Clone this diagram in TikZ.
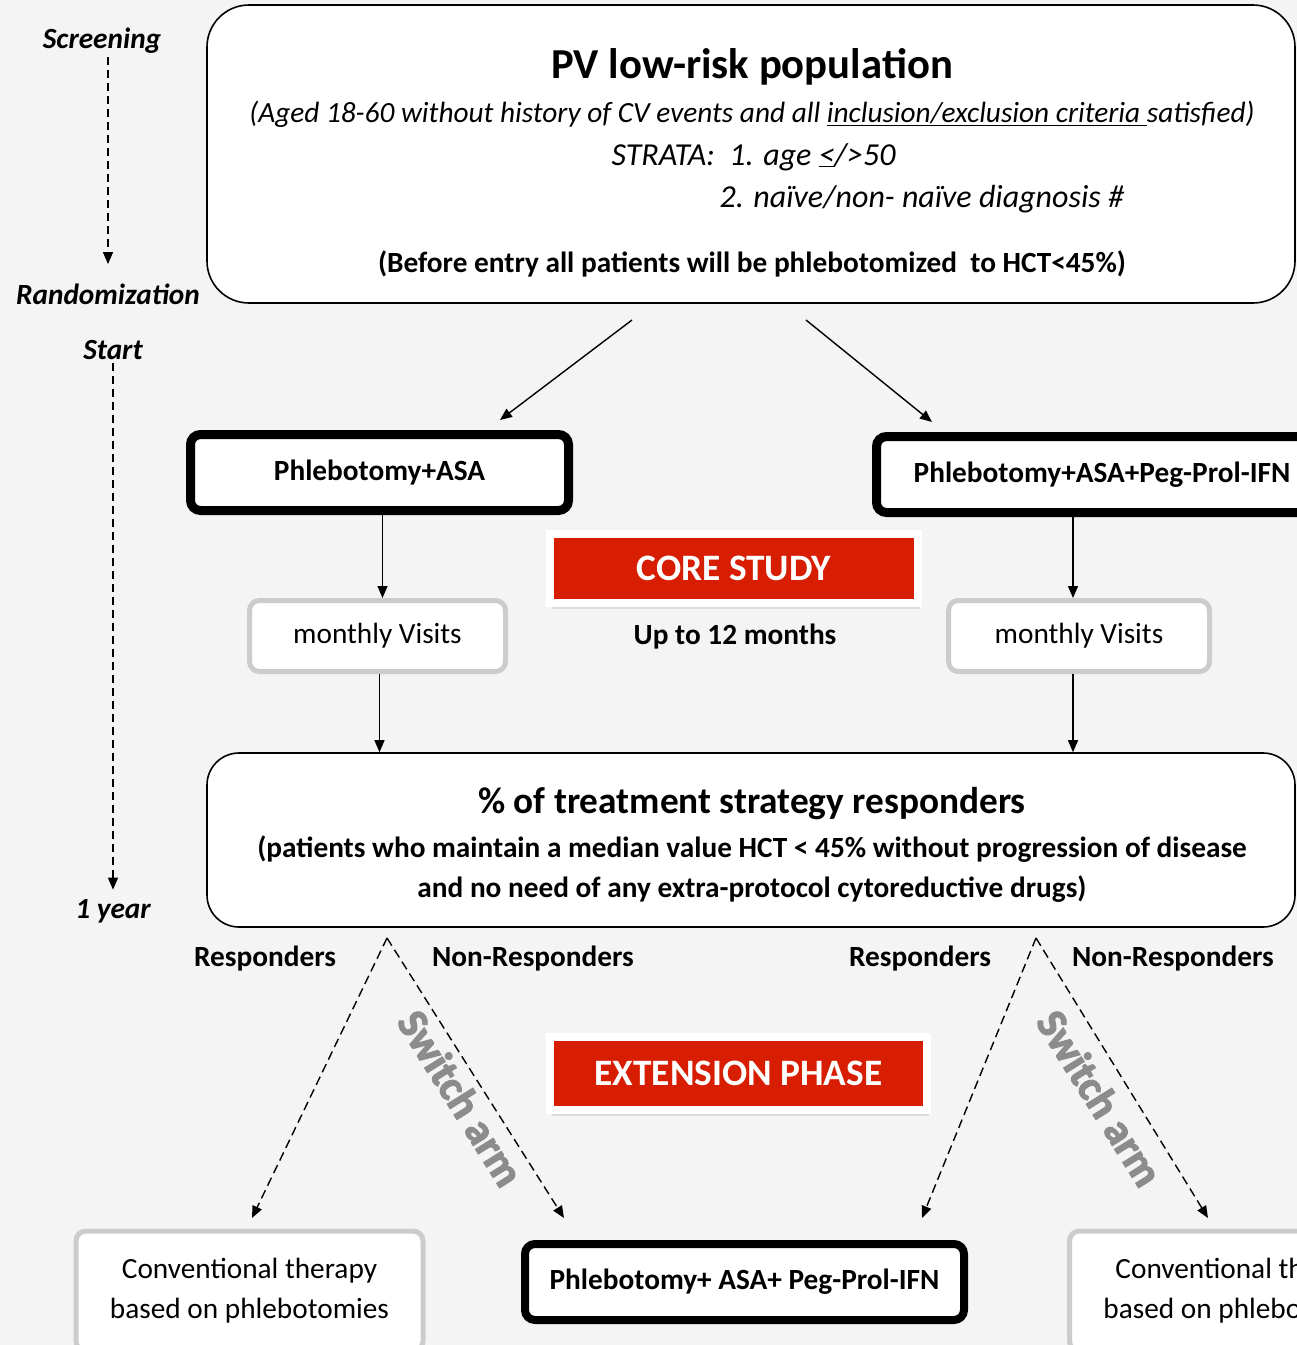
\documentclass[tikz,border=0pt]{standalone}
\usepackage{fontspec}
\setmainfont{Carlito}
\newfontfamily\switchfont[BoldFeatures={FakeBold=3}]{Carlito}
\usetikzlibrary{arrows.meta,shadows}

\definecolor{bgGray}{RGB}{244,244,244}
\definecolor{coreRed}{RGB}{216,30,2}
\definecolor{frameGray}{RGB}{204,204,204}
\definecolor{switchGray}{RGB}{140,140,140}
\newcommand{\fsz}[2]{\fontsize{#1}{#2}\selectfont}

\begin{document}
\begin{tikzpicture}[x=1pt,y=-1pt,
		>={Triangle[length=12pt,width=10pt]},
		bigbox/.style={draw=black,line width=1.6pt,fill=white,rounded corners=42pt,minimum width=1088pt,inner sep=0pt},
		armbox/.style={draw=black,line width=9pt,fill=white,rounded corners=10pt,minimum height=76pt,inner sep=0pt,font=\fsz{29.3}{34}\bfseries},
		visitbox/.style={draw=frameGray,line width=5pt,fill=white,rounded corners=10pt,inner sep=0pt,align=center,font=\fsz{29.3}{40}},
		phasebox/.style={fill=coreRed,draw=white,line width=8pt,text=white,inner sep=0pt,font=\fsz{37.3}{44}\bfseries,
			drop shadow={shadow xshift=2pt,shadow yshift=-6pt,opacity=0.2}},
		flow/.style={->,line width=1.4pt},
		branch/.style={->,line width=1.4pt,dash pattern=on 9pt off 5pt},
		timeline/.style={->,line width=1.3pt,dash pattern=on 8pt off 5pt},
		timelabel/.style={font=\fsz{29.3}{34}\bfseries\itshape},
		answer/.style={font=\fsz{29.3}{34}\bfseries},
		switchtext/.style={text=switchGray,font=\switchfont\fsz{42.7}{48}\bfseries,rotate=-58}]
		% page and background
		\useasboundingbox (0,0) rectangle (1297,1345);
		\fill[bgGray] (0,0) rectangle (1297,1345);
		\clip (0,0) rectangle (1297,1345);
		% time axis on the left
		\node[timelabel] (screen) at (102,41) {Screening};
		\node[timelabel] (rand) at (108,294) {Randomization};
		\node[timelabel] (start) at (113,350) {Start};
		\node[timelabel] (year) at (113,911) {1 year};
		\draw[timeline,shorten >=16pt] (screen.south -| rand.north) -- (rand.north);
		\draw[timeline,shorten >=6pt] (start.south) -- (year.north);
		% population box
		\node[bigbox,minimum height=298pt] (pop) at (751,154) {};
		\node[font=\fsz{42.7}{48}\bfseries] (popTitle) at (752,67) {PV low-risk population};
		\node[font=\fsz{29.3}{34}\itshape] (popAge) at (752,114) {(Aged 18-60 without history of CV events and all \underline{inclusion/exclusion criteria\ }satisfied)};
		\node[font=\fsz{32}{36}\itshape,anchor=west] (strataA) at (608,157) {STRATA:\ \ 1. age \underline{<}/>50};
		\node[font=\fsz{32}{36}\itshape,anchor=west] (strataB) at (716,199) {2. naïve/non- naïve diagnosis \#};
		\node[font=\fsz{29.3}{34}\bfseries] (popNote) at (752,264) {(Before entry all patients will be phlebotomized\ \ to HCT<45\%)};
		% randomization arrows
		\coordinate (splitA) at (632,320);
		\coordinate (splitB) at (806,320);
		\coordinate (intoA) at (500,420);
		\coordinate (intoB) at (932,422);
		\draw[flow] (splitA) -- (intoA);
		\draw[flow] (splitB) -- (intoB);
		% the two arms
		\node[armbox,minimum width=378pt] (armA) at (379.5,472.5) {Phlebotomy+ASA};
		\node[armbox,minimum width=451pt] (armB) at (1102,474.5) {Phlebotomy+ASA+Peg-Prol-IFN};
		\node[phasebox,minimum width=368pt,minimum height=69pt] (core) at (734,568) {\raisebox{-4pt}{CORE STUDY}};
		\node[answer] (coreTime) at (735,637) {Up to 12 months};
		\node[visitbox,minimum width=256pt,minimum height=71pt] (visitA) at (377.5,636) {monthly Visits};
		\node[visitbox,minimum width=261pt,minimum height=71pt] (visitB) at (1079,636) {monthly Visits};
		\draw[flow] ([xshift=5pt]visitA.north |- armA.south) -- ([xshift=5pt]visitA.north);
		\draw[flow] ([xshift=-6pt]visitB.north |- armB.south) -- ([xshift=-6pt]visitB.north);
		% responders box
		\node[bigbox,rounded corners=32pt,minimum height=174pt] (resp) at (751,840) {};
		\draw[flow] ([xshift=2pt]visitA.south) -- ([xshift=2pt]visitA.south |- resp.north);
		\draw[flow] ([xshift=-6pt]visitB.south) -- ([xshift=-6pt]visitB.south |- resp.north);
		\node[font=\fsz{37.3}{44}\bfseries] (respTitle) at (752,804) {\% of treatment strategy responders};
		\node[font=\fsz{29.3}{40}\bfseries,align=center] (respNote) at (752,869) {(patients who maintain a median value HCT < 45\% without progression of disease\\and no need of any extra-protocol cytoreductive drugs)};
		% extension phase
		\node[answer] (yesA) at (265,959) {Responders};
		\node[answer] (noA) at (533,959) {Non-Responders};
		\node[answer] (yesB) at (920,959) {Responders};
		\node[answer] (noB) at (1173,959) {Non-Responders};
		\node[phasebox,minimum width=377pt,minimum height=73pt] (ext) at (738.5,1073) {\raisebox{-4pt}{EXTENSION PHASE}};
		\node[visitbox,minimum width=347pt,minimum height=120pt] (convA) at (249.5,1291) {Conventional therapy\\based on phlebotomies};
		\node[armbox,line width=8pt,minimum width=439pt] (ifn) at (744.5,1282) {Phlebotomy+ ASA+ Peg-Prol-IFN};
		\node[visitbox,minimum width=347pt,minimum height=120pt] (convB) at (1243,1291) {Conventional therapy\\based on phlebotomies};
		\coordinate (forkA) at (387,938);
		\coordinate (forkB) at (1036,938);
		\coordinate (toConvA) at (252,1218);
		\coordinate (toIfnA) at (564,1218);
		\coordinate (toIfnB) at (922,1218);
		\coordinate (toConvB) at (1208,1218);
		\draw[branch] (forkA) -- (toConvA);
		\draw[branch] (forkA) -- (toIfnA);
		\draw[branch] (forkB) -- (toIfnB);
		\draw[branch] (forkB) -- (toConvB);
		\node[switchtext] (switchA) at (461,1098) {Switch arm};
		\node[switchtext] (switchB) at (1100,1098) {Switch arm};
	\end{tikzpicture}
\end{document}
